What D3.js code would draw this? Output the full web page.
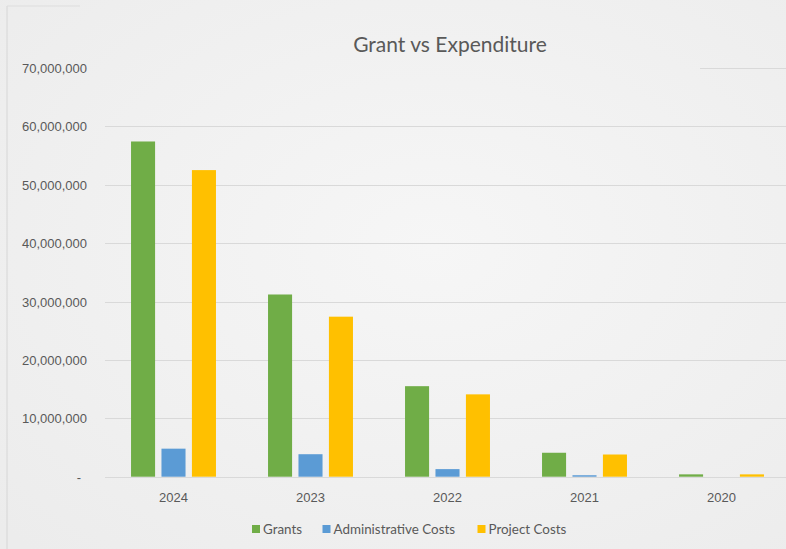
<!DOCTYPE html>
<html>
<head>
<meta charset="utf-8">
<script src="https://cdn.jsdelivr.net/npm/d3@7"></script>
<style>
  body { margin: 0; background: #f1f1f1; }
  svg { display: block; font-family: Lato, "Open Sans", sans-serif; }
</style>
</head>
<body>
<div id="chart"></div>
<script>
// data
const years = ["2024", "2023", "2022", "2021", "2020"];
const seriesNames = ["Grants", "Administrative Costs", "Project Costs"];
const grants = [57400000, 31200000, 15500000, 4100000, 400000];
const adminCosts = [4800000, 3850000, 1300000, 250000, 0];
const projectCosts = [52500000, 27400000, 14100000, 3800000, 400000];
const yTicks = [0, 10000000, 20000000, 30000000, 40000000, 50000000, 60000000, 70000000];
const colors = ["#70ad47", "#5b9bd5", "#ffc000"];

const W = 786, H = 549;
const PLOT_LEFT = 105, PLOT_RIGHT = 790;
const PLOT_TOP = 67.9, PLOT_BOTTOM = 476.7;
const TEXT_COLOR = "#595959";

let rows = years.map((y, i) => ({year: y, values: [grants[i], adminCosts[i], projectCosts[i]]}));

let svg = d3.select("#chart").append("svg")
    .attr("width", W)
    .attr("height", H);

// paper-ish background
let defs = svg.append("defs");
let grad = defs.append("radialGradient").attr("id", "paper").attr("cx", "55%").attr("cy", "45%").attr("r", "75%");
grad.append("stop").attr("offset", "0%").attr("stop-color", "#f6f6f6");
grad.append("stop").attr("offset", "100%").attr("stop-color", "#ececec");
svg.append("rect").attr("width", W).attr("height", H).attr("fill", "url(#paper)");

// faint frame edge on the left
svg.append("line")
    .attr("x1", 7).attr("x2", 7).attr("y1", 6).attr("y2", H)
    .attr("stroke", "#d6d6d6").attr("stroke-width", 1);
svg.append("line")
    .attr("x1", 7).attr("x2", 80).attr("y1", 6).attr("y2", 6)
    .attr("stroke", "#dddddd").attr("stroke-width", 1);

let x = d3.scaleBand()
    .domain(years)
    .range([PLOT_LEFT, PLOT_RIGHT])
    .paddingInner(0.38)
    .paddingOuter(0.19);

let xInner = d3.scaleBand()
    .domain(seriesNames)
    .range([0, x.bandwidth()])
    .paddingInner(0.21);

let y = d3.scaleLinear()
    .domain([0, 70000000])
    .range([PLOT_BOTTOM, PLOT_TOP]);

// gridlines
svg.append("g")
    .attr("id", "grid")
    .selectAll("line")
    .data(yTicks)
    .join("line")
    .attr("x1", d => d === 70000000 ? 700 : PLOT_LEFT)
    .attr("x2", W)
    .attr("y1", d => Math.round(y(d)) + 0.5)
    .attr("y2", d => Math.round(y(d)) + 0.5)
    .attr("stroke", "#d9d9d9")
    .attr("stroke-width", 1);

// y axis labels
let fmt = d3.format(",");
let yAxis = d3.axisLeft(y)
    .tickValues(yTicks)
    .tickSize(0)
    .tickPadding(0)
    .tickFormat(d => d === 0 ? "-" : fmt(d));

svg.append("g")
    .attr("id", "y-axis")
    .attr("transform", `translate(${87}, 0)`)
    .call(yAxis)
    .call(g => g.select(".domain").remove())
    .call(g => g.selectAll("text")
        .attr("fill", TEXT_COLOR)
        .style("font-size", "13px")
        .attr("dy", "0.35em")
        .attr("x", d => d === 0 ? -6 : 0));

// bars
let groups = svg.append("g")
    .attr("id", "bars")
    .selectAll("g")
    .data(rows)
    .join("g")
    .attr("transform", d => `translate(${x(d.year)}, 0)`);

groups.selectAll("rect")
    .data(d => d.values.map((v, i) => ({name: seriesNames[i], value: v, idx: i})))
    .join("rect")
    .attr("x", d => xInner(d.name))
    .attr("width", xInner.bandwidth())
    .attr("y", d => y(d.value))
    .attr("height", d => y(0) - y(d.value))
    .attr("fill", d => colors[d.idx]);

// x axis labels
let xAxis = d3.axisBottom(x).tickSize(0).tickPadding(0);
svg.append("g")
    .attr("id", "x-axis")
    .attr("transform", `translate(0, ${PLOT_BOTTOM})`)
    .call(xAxis)
    .call(g => g.select(".domain").remove())
    .call(g => g.selectAll("text")
        .attr("fill", TEXT_COLOR)
        .style("font-size", "13px")
        .attr("dy", null)
        .attr("y", 25));

// title
svg.append("text")
    .text("Grant vs Expenditure")
    .attr("x", 450)
    .attr("y", 52)
    .attr("text-anchor", "middle")
    .attr("fill", TEXT_COLOR)
    .style("font-size", "21px");

// legend
let legendX = [252, 322.5, 477.5];
let legend = svg.append("g")
    .attr("id", "legend")
    .selectAll("g")
    .data(seriesNames)
    .join("g")
    .attr("transform", (d, i) => `translate(${legendX[i]}, ${529})`);

legend.append("rect")
    .attr("x", 0)
    .attr("y", -4)
    .attr("width", 8)
    .attr("height", 8)
    .attr("fill", (d, i) => colors[i]);

legend.append("text")
    .text(d => d)
    .attr("x", 11)
    .attr("y", 0)
    .attr("dy", "0.35em")
    .attr("fill", TEXT_COLOR)
    .style("font-size", "13.4px");
</script>
</body>
</html>
